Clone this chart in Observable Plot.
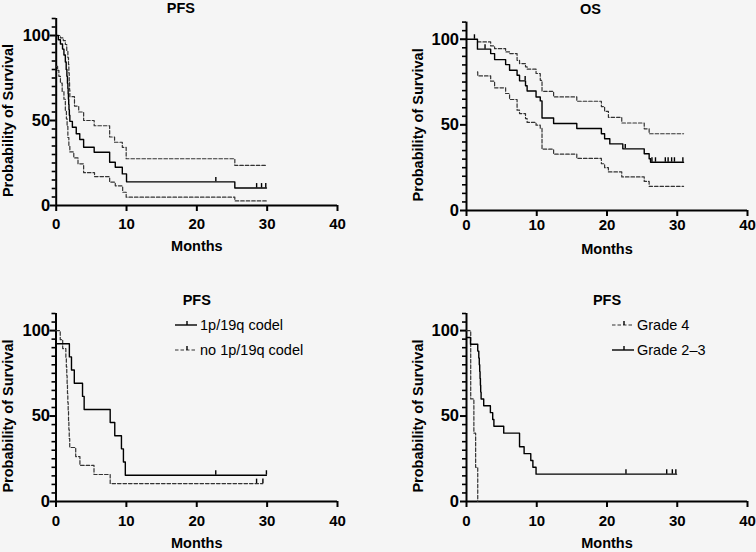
<!DOCTYPE html>
<html>
<head>
<meta charset="utf-8">
<script src="https://cdn.jsdelivr.net/npm/d3@7"></script>
<script src="https://cdn.jsdelivr.net/npm/@observablehq/plot@0.6"></script>
<style>
html, body { margin: 0; padding: 0; background: #f5f5f5; }
#chart { position: relative; width: 756px; height: 552px; background: #f5f5f5; font-family: "Liberation Sans", Arial, Helvetica, sans-serif; }
#chart svg { position: absolute; }
</style>
</head>
<body>
<div id="chart"></div>
<script>
// ---------- tick labels ----------
const monthTicks = [0, 10, 20, 30, 40];
const survivalTicks = [0, 50, 100];
const survivalMinorTicks = [5, 10, 15, 20, 25, 30, 35, 40, 45, 55, 60, 65, 70, 75, 80, 85, 90, 95, 105, 110];

// ---------- Panel 1: PFS (all patients) [months, % surviving] ----------
const pfsMedian = [[0,100],[0.3,97.5],[0.6,95],[0.9,92],[1.1,88.5],[1.3,84.4],[1.42,80],[1.52,76],[1.6,71.9],[1.66,68.8],[1.7,65.6],[1.74,62.5],[1.78,59.4],[1.82,56.3],[1.87,53.1],[1.94,49.5],[2.3,46],[2.85,42.2],[3.35,38.8],[3.9,34.3],[5.4,31.3],[7.6,25.4],[8.4,22.5],[9.4,18.6],[10,13.9],[25.4,10.3],[29.9,10.3]];
const pfsUpper = [[0,100],[0.6,98.6],[1.0,97],[1.3,94.7],[1.5,91],[1.66,87],[1.75,83],[1.8,78],[1.85,73],[1.9,68],[1.94,64],[2.6,58.5],[3.2,55],[3.9,50],[5.4,46.9],[7.6,40.3],[8.3,37.2],[9.4,34.2],[9.95,27.5],[25.4,23.6],[29.9,23.6]];
const pfsLower = [[0,81.8],[0.2,79.5],[0.38,76],[0.6,72],[0.85,67],[1.1,62.5],[1.3,56],[1.45,51],[1.55,46.5],[1.66,40],[1.8,35],[1.94,31.5],[2.5,28],[3.1,24.5],[3.9,19.3],[5.45,17],[7.6,13.7],[8.4,11.6],[9.45,7.8],[9.95,4.9],[25.4,2.7],[29.9,2.7]];
const pfsCensored = [[22.7,13.9],[28.5,10.3],[29.2,10.3],[29.8,10.3]];

// ---------- Panel 2: OS ----------
const osMedian = [[0,100],[1.56,94.2],[3.44,91.6],[4.0,88.1],[5.57,85.2],[6.13,81.9],[7.2,79],[7.55,75.7],[8.4,72.8],[8.63,69.8],[9.9,66.3],[10.5,64],[10.75,54],[12.4,50.8],[15.7,47.9],[19.2,44.8],[19.66,41.9],[20.4,38.9],[22.25,36],[25.3,33.1],[26.0,30.2],[26.2,28.2],[30.9,28.2]];
const osUpper = [[1.56,98.4],[3.44,96.1],[4.0,94.5],[5.57,92.6],[6.13,91.6],[7.2,87.7],[7.55,85.8],[8.4,83.9],[8.63,82.5],[9.9,80],[10.5,76],[10.75,69.6],[12.4,66.3],[15.7,63.8],[19.2,60.7],[19.66,57.9],[20.2,54.4],[22.1,51.1],[25.3,47.7],[26.0,44.8],[30.9,44.8]];
const osLower = [[1.56,80.9],[1.6,78.6],[3.44,75.5],[4.0,71.6],[5.57,68.3],[6.13,64.8],[7.2,58.6],[7.55,56.6],[8.4,53.7],[8.63,51.4],[9.9,49.8],[10.5,47.9],[10.75,35.8],[12.4,32.9],[15.7,30.4],[19.2,27.3],[19.66,25],[20.2,22.5],[22.1,19.6],[25.3,17],[26.0,14.1],[30.9,14.1]];
const osCensored = [[1.13,100],[2.64,94.2],[8.35,75.7],[22.6,36],[26.4,28.2],[26.9,28.2],[28.3,28.2],[28.7,28.2],[29.2,28.2],[29.6,28.2],[30.8,28.2]];

// ---------- Panel 3: PFS by 1p/19q ----------
const codel = [[0,92.3],[1.9,84.6],[2.2,76.9],[2.6,69.2],[3.77,61.5],[4.0,53.8],[7.7,46.2],[8.35,38.5],[9.3,30.8],[9.58,23.1],[9.85,15.4],[29.9,15.4]];
const codelCensored = [[22.7,15.4],[29.9,15.4]];
const noCodel = [[0,100],[0.6,94.7],[0.95,89.5],[1.4,84.2],[1.47,78.9],[1.53,73.7],[1.58,68.4],[1.63,63.2],[1.68,57.9],[1.73,52.6],[1.78,47.4],[1.83,42.1],[1.88,36.8],[1.95,31.6],[2.8,26.3],[3.4,21.1],[5.4,15.8],[7.7,10.5],[29.4,10.5]];
const noCodelCensored = [[28.5,10.5],[29.4,10.5]];

// ---------- Panel 4: PFS by grade ----------
const grade4 = [[0,100],[0.6,60],[1.05,40],[1.3,20],[1.6,0]];
const grade23 = [[0,96],[0.57,92],[1.6,88],[1.75,84],[1.82,80],[1.88,76],[1.93,72],[1.98,68],[2.02,64],[2.08,60],[2.45,56],[3.4,52],[3.73,48],[3.9,44],[5.3,40],[7.55,32],[8.2,28],[9.15,24],[9.45,20],[9.9,16],[29.9,16]];
const grade23Censored = [[22.7,16],[28.5,16],[29.3,16],[29.8,16]];

const rows = a => a.map(([t, s]) => ({t, s}));
const FONT = '"Liberation Sans", Arial, Helvetica, sans-serif';

function panel(cfg) {
  const marks = [
    Plot.ruleX([0], {stroke: "black", strokeWidth: 2}),
    Plot.ruleY([0], {stroke: "black", strokeWidth: 2}),
    Plot.axisY(survivalMinorTicks, {tickSize: 4, strokeWidth: 1.6, tickFormat: () => "", label: null}),
    Plot.axisY(survivalTicks, {tickSize: 6, strokeWidth: 2, tickPadding: cfg.yPad, fontSize: 16.5, fontWeight: "bold", fill: "black", label: null}),
    Plot.axisX(monthTicks, {tickSize: 6, strokeWidth: 2, tickPadding: cfg.xPad, fontSize: 15, fontWeight: "bold", fill: "black", label: null})
  ];
  for (const s of cfg.series) {
    marks.push(Plot.line(rows(s.data), {
      x: "t", y: "s", curve: "step-after",
      stroke: s.dashed ? "#333" : "black",
      strokeWidth: s.dashed ? 1.2 : 1.4,
      strokeDasharray: s.dashed ? "3.5,2" : null
    }));
    if (s.censored) {
      marks.push(Plot.ruleX(rows(s.censored), {x: "t", y1: "s", y2: d => d.s + 2.6, stroke: "black", strokeWidth: 1.4}));
    }
  }
  marks.push(
    Plot.text([cfg.title], {frameAnchor: "top", lineAnchor: "middle", textAnchor: "middle", dx: cfg.titleDx, dy: cfg.titleDy, fontSize: 14.5, fontWeight: "bold", fill: "black"}),
    Plot.text(["Months"], {frameAnchor: "bottom", lineAnchor: "middle", textAnchor: "middle", dy: cfg.monthsDy, fontSize: 14.5, fontWeight: "bold", fill: "black"}),
    Plot.text([50], {y: d => d, text: () => "Probability of Survival", frameAnchor: "left", lineAnchor: "middle", textAnchor: "middle", dx: cfg.labelDx, rotate: -90, fontSize: 14.5, fontWeight: "bold", fill: "black"})
  );
  const svg = Plot.plot({
    width: cfg.width, height: cfg.height,
    marginLeft: cfg.ml, marginRight: cfg.mr, marginTop: cfg.mt, marginBottom: cfg.mb,
    x: {domain: [0, 40]},
    y: {domain: [0, 110]},
    style: {background: "transparent", fontFamily: FONT, color: "black", overflow: "visible"},
    marks
  });
  svg.style.left = cfg.left + "px";
  svg.style.top = cfg.top + "px";
  return svg;
}

const chart = document.getElementById("chart");

chart.append(panel({
  left: 0, top: 0, width: 378, height: 276, ml: 55.7, mr: 41, mt: 18, mb: 71,
  title: "PFS", titleDx: -16, titleDy: -10.3, monthsDy: 41, labelDx: -47.7, xPad: 7, yPad: 0,
  series: [
    {data: pfsUpper, dashed: true},
    {data: pfsLower, dashed: true},
    {data: pfsMedian, censored: pfsCensored}
  ]
}));

chart.append(panel({
  left: 390, top: 0, width: 366, height: 276, ml: 76, mr: 9, mt: 21.6, mb: 66,
  title: "OS", titleDx: -16.5, titleDy: -13, monthsDy: 39, labelDx: -48, xPad: 3, yPad: 1.5,
  series: [
    {data: osUpper, dashed: true},
    {data: osLower, dashed: true},
    {data: osMedian, censored: osCensored}
  ]
}));

chart.append(panel({
  left: 0, top: 280, width: 378, height: 272, ml: 55.5, mr: 41, mt: 33, mb: 51,
  title: "PFS", titleDx: 0, titleDy: -13, monthsDy: 42, labelDx: -47.5, xPad: 8, yPad: 0,
  series: [
    {data: noCodel, dashed: true, censored: noCodelCensored},
    {data: codel, censored: codelCensored}
  ]
}));

chart.append(panel({
  left: 390, top: 280, width: 366, height: 272, ml: 76, mr: 9, mt: 33, mb: 51,
  title: "PFS", titleDx: 0, titleDy: -13, monthsDy: 42, labelDx: -48, xPad: 8, yPad: 1.5,
  series: [
    {data: grade4, dashed: true},
    {data: grade23, censored: grade23Censored}
  ]
}));

// ---------- legends ----------
const legends = [
  {x: 175, y: 325, label: "1p/19q codel", dashed: false},
  {x: 175, y: 350, label: "no 1p/19q codel", dashed: true},
  {x: 612, y: 325, label: "Grade 4", dashed: true},
  {x: 612, y: 350, label: "Grade 2\u20133", dashed: false}
];
const leg = d3.select(chart).append("svg")
  .attr("width", 756).attr("height", 552)
  .style("left", "0px").style("top", "0px").style("pointer-events", "none");
const g = leg.selectAll("g").data(legends).join("g")
  .attr("transform", d => `translate(${d.x},${d.y})`);
g.append("line").attr("x1", 0).attr("x2", 22).attr("y1", 0).attr("y2", 0)
  .attr("stroke", d => d.dashed ? "#333" : "black")
  .attr("stroke-width", d => d.dashed ? 1.2 : 1.4)
  .attr("stroke-dasharray", d => d.dashed ? "3.5,2" : null);
g.append("line").attr("x1", 12).attr("x2", 12).attr("y1", 0).attr("y2", -4)
  .attr("stroke", "black").attr("stroke-width", 1.4);
g.append("text").attr("x", 25).attr("y", 0).attr("dy", "0.35em")
  .attr("font-family", FONT).attr("font-size", 14.5).attr("fill", "black")
  .text(d => d.label);
</script>
</body>
</html>
